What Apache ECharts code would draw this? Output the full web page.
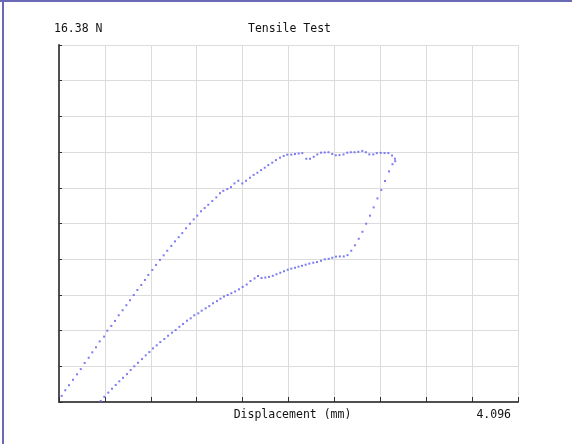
<!DOCTYPE html>
<html>
<head>
<meta charset="utf-8">
<script src="https://cdn.jsdelivr.net/npm/echarts@6/dist/echarts.min.js"></script>
<style>
html,body{margin:0;padding:0;background:#fff;}
#chart{width:572px;height:444px;}
</style>
</head>
<body>
<div id="chart"></div>
<script>
// Tensile test: displacement (mm) vs force (N)
var xMax = 4.096;
var yMax = 16.38;
var chartTitle = 'Tensile Test';
var xName = 'Displacement (mm)';
var yLabel = yMax.toFixed(2) + ' N';
var xLabel = xMax.toFixed(3);

var loadDisp = [0.024,0.056,0.089,0.125,0.161,0.194,0.229,0.265,0.297,0.330,
0.363,0.402,0.431,0.467,0.500,0.533,0.568,0.601,0.634,0.667,
0.699,0.734,0.767,0.797,0.833,0.866,0.901,0.934,0.966,1.002,
1.035,1.068,1.100,1.133,1.169,1.202,1.234,1.267,1.300,1.332,
1.368,1.404,1.437,1.466,1.502,1.535,1.566,1.600,1.636,1.669,
1.704,1.737,1.770,1.803,1.836,1.868,1.903,1.936,1.972,2.005,
2.037,2.073,2.106,2.139,2.171,2.207,2.240,2.273,2.305,2.338,
2.371,2.405,2.438,2.470,2.503,2.539,2.572,2.604,2.637,2.671,
2.706,2.738,2.769,2.805,2.836,2.871,2.905,2.939,2.972,2.998,
3.000,2.976];
var loadForce = [0.28,0.54,0.77,1.02,1.27,1.51,1.79,2.03,2.28,2.51,
2.78,3.00,3.27,3.49,3.72,3.98,4.21,4.44,4.67,4.91,
5.14,5.37,5.60,5.83,6.06,6.29,6.52,6.73,6.94,7.16,
7.37,7.56,7.75,7.97,8.18,8.38,8.55,8.75,8.90,9.05,
9.22,9.39,9.58,9.69,9.77,9.86,10.03,10.15,10.03,10.15,
10.29,10.42,10.52,10.64,10.75,10.87,10.98,11.10,11.21,11.29,
11.35,11.35,11.38,11.40,11.42,11.16,11.16,11.25,11.36,11.44,
11.45,11.46,11.38,11.32,11.33,11.36,11.44,11.46,11.46,11.48,
11.52,11.46,11.36,11.36,11.42,11.43,11.42,11.42,11.31,11.16,
11.05,10.91];

var unloadDisp = [2.945,2.909,2.876,2.842,2.808,2.775,2.741,2.708,2.675,2.641,
2.608,2.575,2.541,2.506,2.472,2.439,2.407,2.372,2.338,2.302,
2.269,2.234,2.201,2.168,2.137,2.106,2.073,2.041,2.008,1.975,
1.941,1.908,1.874,1.841,1.807,1.776,1.745,1.709,1.675,1.639,
1.606,1.571,1.538,1.505,1.472,1.441,1.410,1.374,1.341,1.309,
1.273,1.243,1.207,1.175,1.142,1.107,1.074,1.041,1.008,0.973,
0.940,0.904,0.872,0.839,0.806,0.774,0.741,0.705,0.672,0.640,
0.607,0.571,0.538,0.506,0.473,0.440,0.404,0.372];
var unloadForce = [10.58,10.14,9.73,9.34,8.93,8.55,8.18,7.81,7.49,7.19,
6.94,6.74,6.68,6.68,6.67,6.62,6.57,6.55,6.48,6.42,
6.39,6.35,6.30,6.25,6.21,6.16,6.12,6.07,6.00,5.93,
5.86,5.79,5.74,5.71,5.69,5.78,5.67,5.55,5.39,5.28,
5.17,5.07,4.99,4.91,4.84,4.74,4.63,4.53,4.40,4.30,
4.19,4.07,3.98,3.84,3.73,3.58,3.45,3.30,3.18,3.04,
2.89,2.75,2.60,2.46,2.29,2.14,1.97,1.80,1.64,1.47,
1.28,1.11,0.95,0.78,0.61,0.43,0.24,0.05];

function pairs(xs, ys){ return xs.map(function(x,i){ return [x, ys[i]]; }); }
var points = pairs(loadDisp, loadForce).concat(pairs(unloadDisp, unloadForce));

var FONT = 'DejaVu Sans Mono';
var chart = echarts.init(document.getElementById('chart'), null, {renderer:'canvas'});
chart.setOption({
  animation: false,
  backgroundColor: '#ffffff',
  grid: {left: 59, top: 45, width: 459, height: 357},
  xAxis: {
    type: 'value', min: 0, max: xMax, interval: xMax/10,
    axisLine: {show: true, onZero: false, lineStyle: {color: '#505050', width: 2}},
    axisTick: {show: true, inside: true, length: 5, lineStyle: {color: '#303030', width: 1}},
    axisLabel: {show: false},
    splitLine: {show: true, lineStyle: {color: '#dcdcdc', width: 1}}
  },
  yAxis: {
    type: 'value', min: 0, max: yMax, interval: yMax/10,
    axisLine: {show: true, onZero: false, lineStyle: {color: '#505050', width: 2}},
    axisTick: {show: true, inside: true, length: 3, lineStyle: {color: '#303030', width: 1}},
    axisLabel: {show: false},
    splitLine: {show: true, lineStyle: {color: '#dcdcdc', width: 1}}
  },
  series: [{
    type: 'scatter',
    data: points,
    symbol: 'rect',
    symbolSize: 2,
    itemStyle: {color: '#6f6ff2', opacity: 0.9},
    silent: true
  }],
  graphic: [
    {type:'rect', shape:{x:0,y:0,width:572,height:2}, style:{fill:'#6a6ab4'}},
    {type:'rect', shape:{x:2,y:0,width:2,height:444}, style:{fill:'#6a6ab4'}},
    {type:'text', left: 54, top: 23, style:{text: yLabel, font: '11.5px "'+FONT+'"', fill:'#111'}},
    {type:'text', x: 289.5, y: 23, style:{text: chartTitle, font: '11.5px "'+FONT+'"', fill:'#111', textAlign:'center'}},
    {type:'text', x: 292.5, y: 409, style:{text: xName, font: '11.5px "'+FONT+'"', fill:'#111', textAlign:'center'}},
    {type:'text', x: 511, y: 409, style:{text: xLabel, font: '11.5px "'+FONT+'"', fill:'#111', textAlign:'right'}}
  ]
});
</script>
</body>
</html>
